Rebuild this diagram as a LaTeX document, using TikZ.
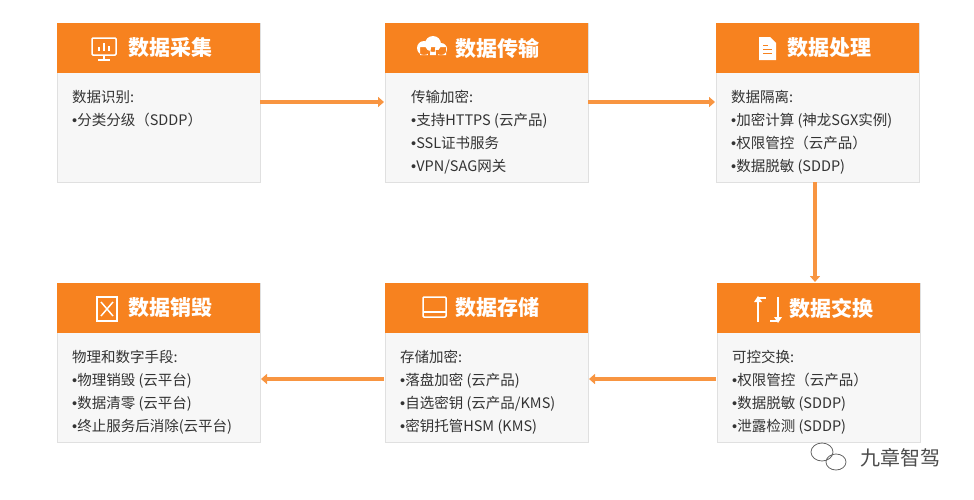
\documentclass[tikz,border=0pt]{standalone}
\usepackage{fontspec}
\setmainfont{Noto Sans CJK SC}
\newfontfamily\lat{Liberation Sans}
\newcommand{\bul}{{\lat •}}
\usetikzlibrary{arrows.meta}
\definecolor{org}{HTML}{F7821F}
\definecolor{bodyc}{HTML}{F7F7F7}
\definecolor{txt}{HTML}{333333}
\tikzset{
 bodybox/.style={draw=black!12,fill=bodyc,line width=0.8pt},
 headbox/.style={fill=org},
 htext/.style={text=white,font=\fontsize{21}{24}\selectfont\bfseries,anchor=center},
 btext/.style={text=txt,font=\fontsize{14.5}{23}\selectfont,align=left,anchor=north west,inner sep=0pt},
 flow/.style={draw=org!85,line width=4pt,-{Triangle[length=6pt,width=10pt]}},
 icon/.style={draw=white,line width=1.5pt}
}
\begin{document}
\begin{tikzpicture}[x=1pt,y=-1pt]
\useasboundingbox (0,0) rectangle (974,499);
\foreach \n/\x/\y in {a/57/23,b/385/23,c/716/23,d/57/283,e/385/283,f/717/283}{
 \draw[bodybox] (\x,\y) rectangle ++(203,159);
 \fill[headbox] (\x,\y) rectangle ++(203,50);
 \coordinate (\n) at (\x,\y);
}
\node[htext] (ha) at (170,48) {数据采集};
\node[htext] (hb) at (497,48) {数据传输};
\node[htext] (hc) at (829,48) {数据处理};
\node[htext] (hd) at (170,308) {数据销毁};
\node[htext] (he) at (497,308) {数据存储};
\node[htext] (hf) at (831,308) {数据交换};
% icons
\draw[icon,rounded corners=1pt] (92,38) rectangle (116,55); \draw[icon] (98,60)--(110,60) (104,55)--(104,60);
\draw[white,line width=2pt] (99,51)--(99,47) (104,51)--(104,43) (109,51)--(109,46);
\fill[white] (424,48) circle (7) (433,44) circle (8) (441,49) circle (6) (420,47) rectangle (446,55);
\draw[org,line width=1.5pt,-{Stealth[length=3pt]}] (429,59)--(429,50);
\draw[org,line width=1.5pt,-{Stealth[length=3pt]}] (437,50)--(437,59);
\fill[white] (759,37) -- (770,37) -- (776,43) -- (776,60) -- (759,60) -- cycle;
\draw[org,line width=1pt] (763,49)--(772,49) (763,53)--(772,53) (763,45)--(768,45);
\draw[icon] (97,297) rectangle (117,321); \draw[icon] (101,302)--(113,316) (113,302)--(101,316);
\draw[icon,rounded corners=1pt] (423,297) rectangle (446,317); \draw[icon] (423,312)--(446,312);
\draw[icon] (758,322)--(758,298)--(766,298) (770,321)--(778,321)--(778,297);
\fill[white] (754,302)--(762,302)--(758,296)--cycle (774,317)--(782,317)--(778,323)--cycle;
% body text
\node[btext] (ta) at (72,90) {数据识别:\\\bul 分类分级（SDDP）};
\node[btext] (tb) at (411,90) {传输加密:\\\bul 支持HTTPS (云产品)\\\bul SSL证书服务\\\bul VPN/SAG网关};
\node[btext] (tc) at (731,90) {数据隔离:\\\bul 加密计算 (神龙SGX实例)\\\bul 权限管控（云产品）\\\bul 数据脱敏 (SDDP)};
\node[btext] (td) at (72,350) {物理和数字手段:\\\bul 物理销毁 (云平台)\\\bul 数据清零 (云平台)\\\bul 终止服务后消除(云平台)};
\node[btext] (te) at (400,350) {存储加密:\\\bul 落盘加密 (云产品)\\\bul 自选密钥 (云产品/KMS)\\\bul 密钥托管HSM (KMS)};
\node[btext] (tf) at (732,350) {可控交换:\\\bul 权限管控（云产品）\\\bul 数据脱敏 (SDDP)\\\bul 泄露检测 (SDDP)};
% connectors
\coordinate (a1) at (260,102); \coordinate (b0) at (384,102);
\coordinate (b1) at (588,102); \coordinate (c0) at (715,102);
\coordinate (c1) at (815,182); \coordinate (f0) at (815,282);
\coordinate (f1) at (716,379); \coordinate (e0) at (589,379);
\coordinate (e1) at (384,379); \coordinate (d0) at (261,379);
\draw[flow] (a1)--(b0); \draw[flow] (b1)--(c0); \draw[flow] (c1)--(f0);
\draw[flow] (f1)--(e0); \draw[flow] (e1)--(d0);
% logo
\node[text=black!70,font=\fontsize{20}{22}\selectfont] (logo) at (900,458) {九章智驾};
\draw[black!60,line width=0.8pt] (822,452) ellipse (11 and 9) (836,462) ellipse (10 and 8);
\end{tikzpicture}
\end{document}
